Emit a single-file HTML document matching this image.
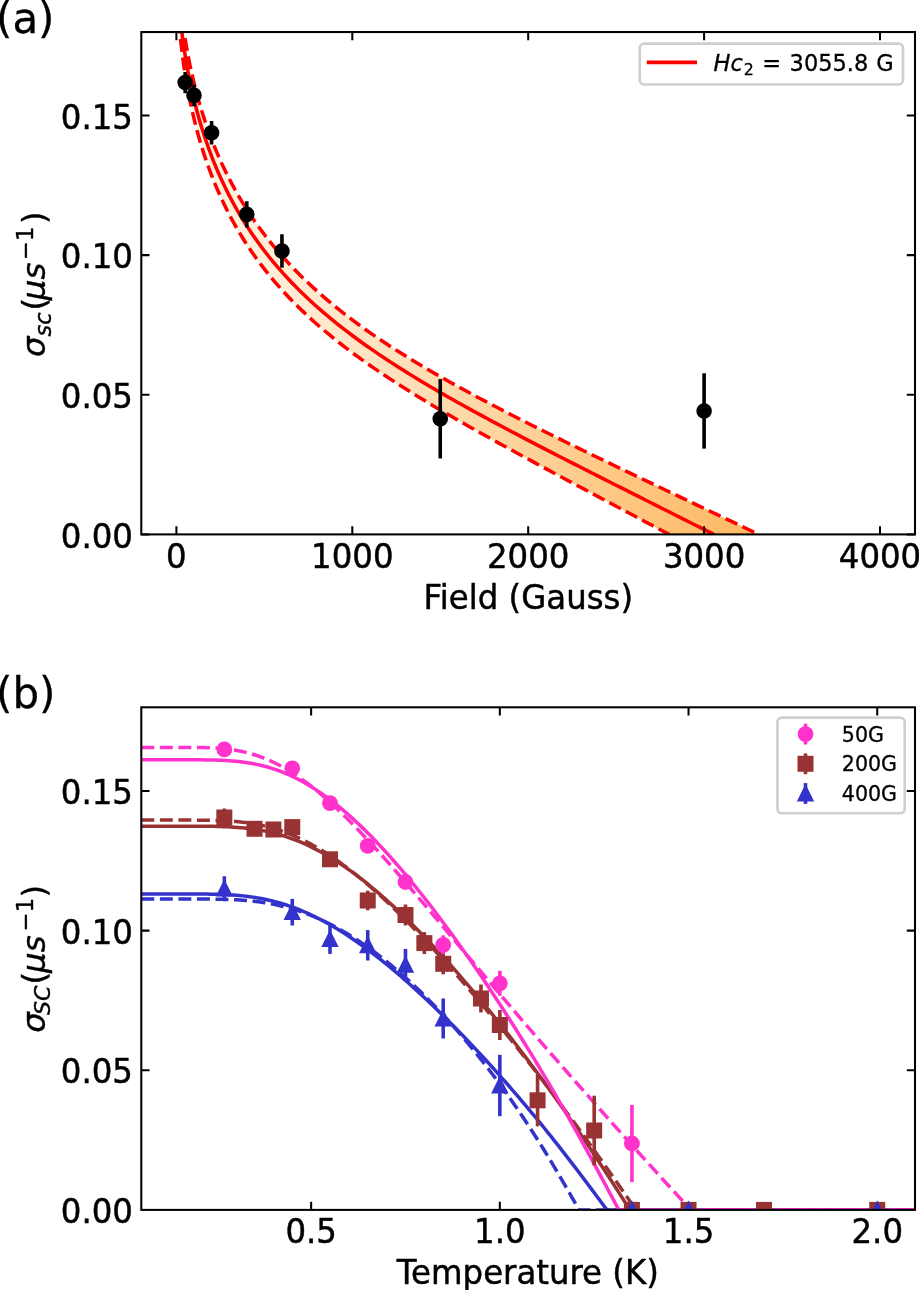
<!DOCTYPE html>
<html><head><meta charset="utf-8"><title>Figure</title>
<style>html,body{margin:0;padding:0;background:#fff}body{width:919px;height:1290px;overflow:hidden}</style></head>
<body>
<svg width="919" height="1290" viewBox="0 0 919 1290" style="display:block">
<defs>
<clipPath id="ca"><rect x="141.3" y="32.05" width="773.7" height="502.34999999999997"/></clipPath>
<clipPath id="cb"><rect x="141.3" y="707.3" width="773.7" height="502.60000000000014"/></clipPath>
<linearGradient id="gf" gradientUnits="userSpaceOnUse" x1="180" y1="0" x2="760" y2="0"><stop offset="0" stop-color="#fff4e6"/><stop offset="0.21" stop-color="#ffebd2"/><stop offset="0.55" stop-color="#fdd5a0"/><stop offset="0.9" stop-color="#fdbe6e"/><stop offset="1" stop-color="#fdb862"/></linearGradient>
</defs>
<rect width="919" height="1290" fill="#fff"/>
<g clip-path="url(#ca)">
<path d="M180 -1L180.24 1.41L180.83 7.01L181.47 12.58L182.14 18.1L182.86 23.58L183.63 29.03L184.43 34.43L185.28 39.8L186.17 45.12L187.11 50.41L188.08 55.65L189.1 60.85L190.16 66.01L191.26 71.12L192.41 76.2L193.6 81.23L194.83 86.22L196.1 91.17L197.42 96.08L198.78 100.94L200.18 105.76L201.63 110.54L203.11 115.28L204.64 119.97L206.21 124.63L207.83 129.24L209.48 133.8L211.18 138.33L212.93 142.81L214.71 147.26L216.54 151.66L218.41 156.02L220.32 160.33L222.27 164.61L224.27 168.85L226.31 173.04L228.39 177.2L230.52 181.32L232.69 185.39L234.9 189.43L237.15 193.43L239.45 197.39L241.78 201.31L244.16 205.2L246.59 209.05L249.05 212.86L251.56 216.63L254.11 220.37L256.71 224.07L259.34 227.74L262.02 231.37L264.74 234.97L267.5 238.54L270.31 242.07L273.16 245.57L276.05 249.04L278.98 252.47L281.96 255.88L284.98 259.26L288.04 262.6L291.15 265.92L294.29 269.21L297.48 272.47L300.71 275.7L303.99 278.91L307.3 282.09L310.66 285.24L314.07 288.37L317.51 291.48L321 294.56L324.53 297.62L328.1 300.66L331.71 303.68L335.37 306.67L339.07 309.65L342.81 312.6L346.6 315.54L350.43 318.46L354.3 321.36L358.21 324.25L362.16 327.12L366.16 329.97L370.2 332.81L374.29 335.63L378.41 338.45L382.58 341.25L386.79 344.04L391.04 346.81L395.34 349.58L399.68 352.34L404.06 355.09L408.48 357.83L412.95 360.56L417.46 363.29L422.01 366.01L426.6 368.73L431.24 371.44L435.92 374.14L440.64 376.85L445.4 379.55L450.21 382.25L455.06 384.94L459.95 387.64L464.88 390.34L469.86 393.04L474.88 395.74L479.94 398.44L485.05 401.14L490.19 403.85L495.38 406.56L500.62 409.28L505.89 412L511.21 414.73L516.57 417.47L521.97 420.21L527.42 422.96L532.9 425.71L538.43 428.48L544.01 431.26L549.62 434.04L555.28 436.84L560.98 439.65L566.72 442.46L572.51 445.3L578.34 448.14L584.21 451L590.12 453.87L596.08 456.75L602.08 459.65L608.12 462.56L614.2 465.49L620.33 468.43L626.49 471.39L632.71 474.37L638.96 477.36L645.26 480.37L651.59 483.4L657.98 486.44L664.4 489.51L670.87 492.59L677.38 495.69L683.93 498.81L690.52 501.94L697.16 505.1L703.84 508.28L710.56 511.47L717.32 514.69L724.13 517.92L730.98 521.18L737.87 524.45L744.81 527.75L751.79 531.06L758.8 534.4L669.1 534.4L663.18 531.25L657.3 528.13L651.45 525.02L645.64 521.93L639.86 518.86L634.13 515.81L628.42 512.77L622.76 509.76L617.12 506.76L611.53 503.78L605.97 500.82L600.44 497.88L594.95 494.96L589.5 492.05L584.08 489.16L578.7 486.29L573.36 483.43L568.05 480.59L562.77 477.77L557.53 474.96L552.33 472.17L547.17 469.39L542.03 466.63L536.94 463.88L531.88 461.14L526.86 458.42L521.87 455.71L516.91 453.02L512 450.34L507.12 447.66L502.27 445L497.46 442.36L492.69 439.72L487.95 437.09L483.25 434.47L478.58 431.86L473.95 429.26L469.36 426.66L464.8 424.08L460.28 421.5L455.79 418.92L451.34 416.35L446.92 413.79L442.54 411.23L438.19 408.68L433.89 406.13L429.61 403.58L425.38 401.03L421.17 398.48L417.01 395.94L412.88 393.4L408.78 390.85L404.73 388.31L400.7 385.76L396.72 383.21L392.76 380.66L388.85 378.1L384.97 375.54L381.13 372.98L377.32 370.41L373.54 367.83L369.81 365.25L366.11 362.66L362.44 360.06L358.81 357.45L355.22 354.83L351.66 352.2L348.14 349.56L344.65 346.91L341.2 344.25L337.79 341.58L334.41 338.89L331.06 336.19L327.76 333.47L324.48 330.74L321.25 327.99L318.05 325.22L314.88 322.44L311.75 319.64L308.66 316.82L305.6 313.98L302.58 311.12L299.59 308.24L296.64 305.34L293.73 302.41L290.85 299.47L288.01 296.5L285.2 293.51L282.43 290.49L279.69 287.45L276.99 284.38L274.33 281.29L271.7 278.17L269.11 275.02L266.55 271.85L264.03 268.65L261.55 265.42L259.1 262.16L256.68 258.86L254.3 255.54L251.96 252.19L249.66 248.81L247.38 245.39L245.15 241.95L242.95 238.47L240.79 234.95L238.66 231.41L236.57 227.82L234.51 224.21L232.49 220.56L230.5 216.87L228.56 213.15L226.64 209.39L224.77 205.6L222.92 201.77L221.12 197.9L219.35 194L217.61 190.06L215.91 186.08L214.25 182.06L212.62 178L211.03 173.91L209.48 169.77L207.96 165.6L206.47 161.39L205.02 157.14L203.61 152.85L202.23 148.52L200.89 144.15L199.59 139.74L198.32 135.29L197.08 130.8L195.88 126.27L194.72 121.7L193.6 117.09L192.5 112.44L191.45 107.76L190.43 103.03L189.45 98.26L188.5 93.45L187.59 88.61L186.71 83.72L185.87 78.8L185.06 73.83L184.29 68.83L183.56 63.79L182.86 58.71L182.2 53.6L181.57 48.44L180.98 43.25L180.43 38.03L179.91 32.76L179.43 27.47L178.98 22.13L178.57 16.76L178.19 11.36L177.85 5.92L177.55 0.45L177.48 -1Z" fill="url(#gf)"/>
<path d="M178.63 -1L178.64 -0.86L179.08 4.69L179.56 10.21L180.08 15.7L180.63 21.15L181.23 26.55L181.86 31.93L182.53 37.26L183.25 42.55L184 47.81L184.79 53.03L185.62 58.2L186.49 63.34L187.4 68.44L188.35 73.49L189.33 78.51L190.36 83.49L191.42 88.42L192.53 93.31L193.67 98.17L194.85 102.98L196.08 107.75L197.34 112.48L198.64 117.17L199.98 121.81L201.35 126.42L202.77 130.98L204.23 135.51L205.72 139.99L207.26 144.43L208.83 148.83L210.45 153.19L212.1 157.51L213.79 161.79L215.52 166.03L217.29 170.22L219.1 174.38L220.95 178.5L222.83 182.58L224.76 186.62L226.73 190.63L228.73 194.59L230.77 198.52L232.86 202.41L234.98 206.26L237.14 210.07L239.34 213.85L241.58 217.59L243.86 221.3L246.18 224.97L248.54 228.6L250.93 232.21L253.37 235.77L255.84 239.31L258.36 242.81L260.91 246.28L263.5 249.71L266.13 253.12L268.8 256.49L271.51 259.83L274.26 263.15L277.05 266.43L279.87 269.68L282.74 272.91L285.65 276.11L288.59 279.28L291.57 282.43L294.6 285.55L297.66 288.64L300.76 291.71L303.9 294.76L307.08 297.78L310.3 300.78L313.55 303.76L316.85 306.72L320.19 309.65L323.56 312.57L326.98 315.46L330.43 318.34L333.92 321.2L337.45 324.04L341.03 326.87L344.64 329.67L348.28 332.47L351.97 335.25L355.7 338.01L359.47 340.76L363.27 343.5L367.12 346.23L371 348.94L374.92 351.65L378.89 354.34L382.89 357.03L386.93 359.71L391.01 362.37L395.13 365.04L399.29 367.69L403.48 370.34L407.72 372.99L412 375.63L416.31 378.26L420.66 380.9L425.06 383.53L429.49 386.16L433.96 388.79L438.47 391.41L443.02 394.04L447.61 396.67L452.24 399.3L456.9 401.93L461.61 404.57L466.36 407.21L471.14 409.85L475.96 412.5L480.83 415.15L485.73 417.81L490.67 420.47L495.65 423.14L500.67 425.82L505.73 428.51L510.83 431.2L515.96 433.91L521.14 436.62L526.35 439.35L531.61 442.08L536.9 444.83L542.24 447.59L547.61 450.36L553.02 453.14L558.47 455.94L563.96 458.75L569.49 461.57L575.05 464.41L580.66 467.26L586.31 470.13L591.99 473.01L597.72 475.91L603.48 478.83L609.28 481.76L615.12 484.71L621 487.68L626.92 490.66L632.88 493.66L638.88 496.68L644.92 499.72L651 502.78L657.11 505.86L663.27 508.95L669.46 512.06L675.69 515.2L681.97 518.35L688.28 521.52L694.63 524.71L701.02 527.92L707.45 531.15L713.92 534.4" fill="none" stroke="#f00" stroke-width="3.5"/>
<path d="M180 -1L180.24 1.41L180.83 7.01L181.47 12.58L182.14 18.1L182.86 23.58L183.63 29.03L184.43 34.43L185.28 39.8L186.17 45.12L187.11 50.41L188.08 55.65L189.1 60.85L190.16 66.01L191.26 71.12L192.41 76.2L193.6 81.23L194.83 86.22L196.1 91.17L197.42 96.08L198.78 100.94L200.18 105.76L201.63 110.54L203.11 115.28L204.64 119.97L206.21 124.63L207.83 129.24L209.48 133.8L211.18 138.33L212.93 142.81L214.71 147.26L216.54 151.66L218.41 156.02L220.32 160.33L222.27 164.61L224.27 168.85L226.31 173.04L228.39 177.2L230.52 181.32L232.69 185.39L234.9 189.43L237.15 193.43L239.45 197.39L241.78 201.31L244.16 205.2L246.59 209.05L249.05 212.86L251.56 216.63L254.11 220.37L256.71 224.07L259.34 227.74L262.02 231.37L264.74 234.97L267.5 238.54L270.31 242.07L273.16 245.57L276.05 249.04L278.98 252.47L281.96 255.88L284.98 259.26L288.04 262.6L291.15 265.92L294.29 269.21L297.48 272.47L300.71 275.7L303.99 278.91L307.3 282.09L310.66 285.24L314.07 288.37L317.51 291.48L321 294.56L324.53 297.62L328.1 300.66L331.71 303.68L335.37 306.67L339.07 309.65L342.81 312.6L346.6 315.54L350.43 318.46L354.3 321.36L358.21 324.25L362.16 327.12L366.16 329.97L370.2 332.81L374.29 335.63L378.41 338.45L382.58 341.25L386.79 344.04L391.04 346.81L395.34 349.58L399.68 352.34L404.06 355.09L408.48 357.83L412.95 360.56L417.46 363.29L422.01 366.01L426.6 368.73L431.24 371.44L435.92 374.14L440.64 376.85L445.4 379.55L450.21 382.25L455.06 384.94L459.95 387.64L464.88 390.34L469.86 393.04L474.88 395.74L479.94 398.44L485.05 401.14L490.19 403.85L495.38 406.56L500.62 409.28L505.89 412L511.21 414.73L516.57 417.47L521.97 420.21L527.42 422.96L532.9 425.71L538.43 428.48L544.01 431.26L549.62 434.04L555.28 436.84L560.98 439.65L566.72 442.46L572.51 445.3L578.34 448.14L584.21 451L590.12 453.87L596.08 456.75L602.08 459.65L608.12 462.56L614.2 465.49L620.33 468.43L626.49 471.39L632.71 474.37L638.96 477.36L645.26 480.37L651.59 483.4L657.98 486.44L664.4 489.51L670.87 492.59L677.38 495.69L683.93 498.81L690.52 501.94L697.16 505.1L703.84 508.28L710.56 511.47L717.32 514.69L724.13 517.92L730.98 521.18L737.87 524.45L744.81 527.75L751.79 531.06L758.8 534.4" fill="none" stroke="#f00" stroke-width="3.5" stroke-dasharray="12.95 5.60" stroke-dashoffset="-2.3"/>
<path d="M177.48 -1L177.55 0.45L177.85 5.92L178.19 11.36L178.57 16.76L178.98 22.13L179.43 27.47L179.91 32.76L180.43 38.03L180.98 43.25L181.57 48.44L182.2 53.6L182.86 58.71L183.56 63.79L184.29 68.83L185.06 73.83L185.87 78.8L186.71 83.72L187.59 88.61L188.5 93.45L189.45 98.26L190.43 103.03L191.45 107.76L192.5 112.44L193.6 117.09L194.72 121.7L195.88 126.27L197.08 130.8L198.32 135.29L199.59 139.74L200.89 144.15L202.23 148.52L203.61 152.85L205.02 157.14L206.47 161.39L207.96 165.6L209.48 169.77L211.03 173.91L212.62 178L214.25 182.06L215.91 186.08L217.61 190.06L219.35 194L221.12 197.9L222.92 201.77L224.77 205.6L226.64 209.39L228.56 213.15L230.5 216.87L232.49 220.56L234.51 224.21L236.57 227.82L238.66 231.41L240.79 234.95L242.95 238.47L245.15 241.95L247.38 245.39L249.66 248.81L251.96 252.19L254.3 255.54L256.68 258.86L259.1 262.16L261.55 265.42L264.03 268.65L266.55 271.85L269.11 275.02L271.7 278.17L274.33 281.29L276.99 284.38L279.69 287.45L282.43 290.49L285.2 293.51L288.01 296.5L290.85 299.47L293.73 302.41L296.64 305.34L299.59 308.24L302.58 311.12L305.6 313.98L308.66 316.82L311.75 319.64L314.88 322.44L318.05 325.22L321.25 327.99L324.48 330.74L327.76 333.47L331.06 336.19L334.41 338.89L337.79 341.58L341.2 344.25L344.65 346.91L348.14 349.56L351.66 352.2L355.22 354.83L358.81 357.45L362.44 360.06L366.11 362.66L369.81 365.25L373.54 367.83L377.32 370.41L381.13 372.98L384.97 375.54L388.85 378.1L392.76 380.66L396.72 383.21L400.7 385.76L404.73 388.31L408.78 390.85L412.88 393.4L417.01 395.94L421.17 398.48L425.38 401.03L429.61 403.58L433.89 406.13L438.19 408.68L442.54 411.23L446.92 413.79L451.34 416.35L455.79 418.92L460.28 421.5L464.8 424.08L469.36 426.66L473.95 429.26L478.58 431.86L483.25 434.47L487.95 437.09L492.69 439.72L497.46 442.36L502.27 445L507.12 447.66L512 450.34L516.91 453.02L521.87 455.71L526.86 458.42L531.88 461.14L536.94 463.88L542.03 466.63L547.17 469.39L552.33 472.17L557.53 474.96L562.77 477.77L568.05 480.59L573.36 483.43L578.7 486.29L584.08 489.16L589.5 492.05L594.95 494.96L600.44 497.88L605.97 500.82L611.53 503.78L617.12 506.76L622.76 509.76L628.42 512.77L634.13 515.81L639.86 518.86L645.64 521.93L651.45 525.02L657.3 528.13L663.18 531.25L669.1 534.4" fill="none" stroke="#f00" stroke-width="3.5" stroke-dasharray="12.95 5.60" stroke-dashoffset="-3"/>
</g>
<path d="M176.4 534.4v-8.2M176.4 32.05v8.2M352.3 534.4v-8.2M352.3 32.05v8.2M528.2 534.4v-8.2M528.2 32.05v8.2M704.1 534.4v-8.2M704.1 32.05v8.2M880 534.4v-8.2M880 32.05v8.2M141.3 534.4h8.2M915 534.4h-8.2M141.3 394.76h8.2M915 394.76h-8.2M141.3 255.13h8.2M915 255.13h-8.2M141.3 115.5h8.2M915 115.5h-8.2" stroke="#000" stroke-width="2.05" fill="none"/>
<g clip-path="url(#ca)">
<line x1="185.19" x2="185.19" y1="71.93" y2="93.15" stroke="#000" stroke-width="3.6"/>
<circle cx="185.19" cy="82.54" r="7.8" fill="#000"/>
<line x1="193.99" x2="193.99" y1="84.5" y2="106.28" stroke="#000" stroke-width="3.6"/>
<circle cx="193.99" cy="95.39" r="7.8" fill="#000"/>
<line x1="211.58" x2="211.58" y1="121.08" y2="144.54" stroke="#000" stroke-width="3.6"/>
<circle cx="211.58" cy="132.81" r="7.8" fill="#000"/>
<line x1="246.76" x2="246.76" y1="201.23" y2="227.48" stroke="#000" stroke-width="3.6"/>
<circle cx="246.76" cy="214.36" r="7.8" fill="#000"/>
<line x1="281.94" x2="281.94" y1="234.18" y2="267.7" stroke="#000" stroke-width="3.6"/>
<circle cx="281.94" cy="250.94" r="7.8" fill="#000"/>
<line x1="440.25" x2="440.25" y1="379.13" y2="458.44" stroke="#000" stroke-width="3.6"/>
<circle cx="440.25" cy="418.78" r="7.8" fill="#000"/>
<line x1="704.1" x2="704.1" y1="373.26" y2="448.66" stroke="#000" stroke-width="3.6"/>
<circle cx="704.1" cy="410.96" r="7.8" fill="#000"/>
</g>
<rect x="141.3" y="32.05" width="773.7" height="502.34999999999997" fill="none" stroke="#000" stroke-width="2.05"/>
<g style="font-family:'DejaVu Sans','Liberation Sans',sans-serif" fill="#000">
<text transform="translate(176.4 567.7) scale(1 1.06)" font-size="32.4" text-anchor="middle" stroke="#000" stroke-width="0.45">0</text>
<text transform="translate(352.3 567.7) scale(1 1.06)" font-size="32.4" text-anchor="middle" stroke="#000" stroke-width="0.45">1000</text>
<text transform="translate(528.2 567.7) scale(1 1.06)" font-size="32.4" text-anchor="middle" stroke="#000" stroke-width="0.45">2000</text>
<text transform="translate(704.1 567.7) scale(1 1.06)" font-size="32.4" text-anchor="middle" stroke="#000" stroke-width="0.45">3000</text>
<text transform="translate(880 567.7) scale(1 1.06)" font-size="32.4" text-anchor="middle" stroke="#000" stroke-width="0.45">4000</text>
<text transform="translate(132.9 547.5) scale(1 1.06)" font-size="32.4" text-anchor="end" stroke="#000" stroke-width="0.45">0.00</text>
<text transform="translate(132.9 407.87) scale(1 1.06)" font-size="32.4" text-anchor="end" stroke="#000" stroke-width="0.45">0.05</text>
<text transform="translate(132.9 268.23) scale(1 1.06)" font-size="32.4" text-anchor="end" stroke="#000" stroke-width="0.45">0.10</text>
<text transform="translate(132.9 128.59) scale(1 1.06)" font-size="32.4" text-anchor="end" stroke="#000" stroke-width="0.45">0.15</text>
<text transform="translate(528.3 608.5) scale(1 1.06)" font-size="32.4" text-anchor="middle" stroke="#000" stroke-width="0.45">Field (Gauss)</text>
</g>
<g clip-path="url(#cb)">
<path d="M141.3 826.18L144.74 826.18L148.19 826.18L151.63 826.18L155.07 826.18L158.52 826.18L161.96 826.18L165.4 826.18L168.84 826.18L172.29 826.18L175.73 826.18L179.17 826.18L182.62 826.18L186.06 826.19L189.5 826.19L192.95 826.19L196.39 826.2L199.83 826.22L203.27 826.23L206.72 826.26L210.16 826.3L213.6 826.35L217.05 826.42L220.49 826.51L223.93 826.63L227.38 826.77L230.82 826.94L234.26 827.14L237.7 827.39L241.15 827.67L244.59 828.01L248.03 828.39L251.48 828.82L254.92 829.31L258.36 829.86L261.81 830.47L265.25 831.14L268.69 831.88L272.14 832.69L275.58 833.56L279.02 834.51L282.46 835.53L285.91 836.62L289.35 837.79L292.79 839.03L296.24 840.35L299.68 841.74L303.12 843.21L306.57 844.75L310.01 846.37L313.45 848.07L316.89 849.83L320.34 851.68L323.78 853.59L327.22 855.58L330.67 857.64L334.11 859.76L337.55 861.96L341 864.23L344.44 866.56L347.88 868.96L351.32 871.43L354.77 873.95L358.21 876.54L361.65 879.19L365.1 881.9L368.54 884.67L371.98 887.5L375.43 890.38L378.87 893.32L382.31 896.31L385.76 899.35L389.2 902.45L392.64 905.59L396.08 908.79L399.53 912.03L402.97 915.32L406.41 918.65L409.86 922.03L413.3 925.46L416.74 928.92L420.19 932.43L423.63 935.98L427.07 939.57L430.51 943.2L433.96 946.87L437.4 950.58L440.84 954.33L444.29 958.11L447.73 961.93L451.17 965.78L454.62 969.67L458.06 973.59L461.5 977.55L464.94 981.54L468.39 985.57L471.83 989.63L475.27 993.72L478.72 997.84L482.16 1002L485.6 1006.19L489.05 1010.41L492.49 1014.66L495.93 1018.94L499.37 1023.26L502.82 1027.6L506.26 1031.98L509.7 1036.39L513.15 1040.83L516.59 1045.3L520.03 1049.8L523.48 1054.33L526.92 1058.9L530.36 1063.5L533.81 1068.12L537.25 1072.78L540.69 1077.47L544.13 1082.2L547.58 1086.95L551.02 1091.74L554.46 1096.56L557.91 1101.41L561.35 1106.29L564.79 1111.21L568.24 1116.16L571.68 1121.14L575.12 1126.16L578.56 1131.21L582.01 1136.29L585.45 1141.4L588.89 1146.55L592.34 1151.73L595.78 1156.94L599.22 1162.18L602.67 1167.45L606.11 1172.74L609.55 1178.07L612.99 1183.42L616.44 1188.79L619.88 1194.17L620.8 1195.61L621.73 1197.06L622.65 1198.5L623.57 1199.94L624.5 1201.38L625.42 1202.82L626.34 1204.26L627.26 1205.69L628.19 1207.11L629.11 1208.52L630.03 1209.9L925 1209.9" fill="none" stroke="#993333" stroke-width="3.5"/>
<path d="M141.3 820.09L144.79 820.09L148.27 820.09L151.76 820.09L155.24 820.09L158.73 820.09L162.21 820.09L165.7 820.09L169.18 820.09L172.67 820.1L176.16 820.1L179.64 820.1L183.13 820.1L186.61 820.1L190.1 820.1L193.58 820.11L197.07 820.13L200.56 820.15L204.04 820.18L207.53 820.22L211.01 820.28L214.5 820.35L217.98 820.45L221.47 820.58L224.95 820.74L228.44 820.93L231.93 821.17L235.41 821.45L238.9 821.77L242.38 822.15L245.87 822.59L249.35 823.08L252.84 823.64L256.32 824.27L259.81 824.96L263.3 825.73L266.78 826.57L270.27 827.49L273.75 828.48L277.24 829.56L280.72 830.71L284.21 831.95L287.7 833.26L291.18 834.66L294.67 836.14L298.15 837.7L301.64 839.35L305.12 841.07L308.61 842.88L312.09 844.76L315.58 846.72L319.07 848.76L322.55 850.87L326.04 853.06L329.52 855.33L333.01 857.66L336.49 860.07L339.98 862.54L343.46 865.09L346.95 867.69L350.44 870.37L353.92 873.1L357.41 875.9L360.89 878.75L364.38 881.67L367.86 884.64L371.35 887.66L374.84 890.74L378.32 893.87L381.81 897.05L385.29 900.28L388.78 903.55L392.26 906.87L395.75 910.24L399.23 913.65L402.72 917.09L406.21 920.59L409.69 924.11L413.18 927.68L416.66 931.29L420.15 934.93L423.63 938.6L427.12 942.31L430.6 946.06L434.09 949.83L437.58 953.64L441.06 957.47L444.55 961.34L448.03 965.24L451.52 969.16L455 973.11L458.49 977.09L461.98 981.1L465.46 985.13L468.95 989.18L472.43 993.27L475.92 997.37L479.4 1001.5L482.89 1005.66L486.37 1009.84L489.86 1014.04L493.35 1018.27L496.83 1022.51L500.32 1026.79L503.8 1031.08L507.29 1035.39L510.77 1039.73L514.26 1044.09L517.74 1048.48L521.23 1052.88L524.72 1057.31L528.2 1061.76L531.69 1066.23L535.17 1070.72L538.66 1075.24L542.14 1079.78L545.63 1084.34L549.12 1088.92L552.6 1093.53L556.09 1098.15L559.57 1102.8L563.06 1107.48L566.54 1112.17L570.03 1116.89L573.51 1121.63L577 1126.4L580.49 1131.18L583.97 1135.99L587.46 1140.82L590.94 1145.68L594.43 1150.56L597.91 1155.45L601.4 1160.37L604.88 1165.31L608.37 1170.27L611.86 1175.25L615.34 1180.24L618.83 1185.25L622.31 1190.26L625.8 1195.28L626.73 1196.63L627.67 1197.97L628.6 1199.31L629.53 1200.66L630.47 1202L631.4 1203.33L632.34 1204.67L633.27 1205.99L634.2 1207.32L635.14 1208.63L636.07 1209.9L925 1209.9" fill="none" stroke="#993333" stroke-width="3.5" stroke-dasharray="12.95 5.60"/>
<path d="M141.3 893.99L144.58 893.99L147.86 893.99L151.14 893.99L154.42 893.99L157.7 893.99L160.98 893.99L164.27 893.99L167.55 893.99L170.83 893.99L174.11 893.99L177.39 893.99L180.67 893.99L183.95 893.99L187.23 894L190.51 894L193.79 894.01L197.07 894.02L200.35 894.04L203.63 894.06L206.91 894.1L210.2 894.14L213.48 894.2L216.76 894.28L220.04 894.38L223.32 894.5L226.6 894.64L229.88 894.82L233.16 895.03L236.44 895.27L239.72 895.55L243 895.87L246.28 896.24L249.56 896.65L252.84 897.11L256.13 897.62L259.41 898.18L262.69 898.8L265.97 899.48L269.25 900.21L272.53 901L275.81 901.84L279.09 902.75L282.37 903.72L285.65 904.76L288.93 905.85L292.21 907L295.49 908.22L298.77 909.5L302.06 910.84L305.34 912.24L308.62 913.71L311.9 915.23L315.18 916.81L318.46 918.46L321.74 920.16L325.02 921.91L328.3 923.73L331.58 925.6L334.86 927.53L338.14 929.51L341.42 931.54L344.7 933.62L347.99 935.76L351.27 937.94L354.55 940.18L357.83 942.46L361.11 944.79L364.39 947.16L367.67 949.58L370.95 952.05L374.23 954.55L377.51 957.1L380.79 959.69L384.07 962.32L387.35 964.99L390.63 967.7L393.92 970.44L397.2 973.22L400.48 976.04L403.76 978.89L407.04 981.78L410.32 984.7L413.6 987.65L416.88 990.64L420.16 993.66L423.44 996.71L426.72 999.79L430 1002.9L433.28 1006.04L436.56 1009.21L439.85 1012.41L443.13 1015.64L446.41 1018.89L449.69 1022.17L452.97 1025.48L456.25 1028.82L459.53 1032.19L462.81 1035.58L466.09 1038.99L469.37 1042.44L472.65 1045.91L475.93 1049.4L479.21 1052.93L482.49 1056.47L485.78 1060.05L489.06 1063.64L492.34 1067.27L495.62 1070.92L498.9 1074.59L502.18 1078.29L505.46 1082.02L508.74 1085.77L512.02 1089.55L515.3 1093.36L518.58 1097.19L521.86 1101.04L525.14 1104.92L528.42 1108.83L531.71 1112.77L534.99 1116.73L538.27 1120.72L541.55 1124.73L544.83 1128.77L548.11 1132.84L551.39 1136.93L554.67 1141.06L557.95 1145.21L561.23 1149.38L564.51 1153.58L567.79 1157.81L571.07 1162.07L574.35 1166.35L577.64 1170.66L580.92 1174.99L584.2 1179.34L587.48 1183.72L590.76 1188.11L594.04 1192.53L597.32 1196.95L598.2 1198.14L599.08 1199.33L599.96 1200.51L600.84 1201.7L601.73 1202.89L602.61 1204.07L603.49 1205.26L604.37 1206.43L605.25 1207.61L606.13 1208.77L607.01 1209.9L925 1209.9" fill="none" stroke="#3333cc" stroke-width="3.5"/>
<path d="M141.3 898.99L144.38 898.99L147.47 898.99L150.55 898.99L153.64 898.99L156.72 898.99L159.8 898.99L162.89 898.99L165.97 898.99L169.05 898.99L172.14 898.99L175.22 898.99L178.31 898.99L181.39 898.99L184.47 898.99L187.56 898.99L190.64 898.99L193.72 899L196.81 899L199.89 899.01L202.98 899.02L206.06 899.04L209.14 899.06L212.23 899.1L215.31 899.14L218.4 899.19L221.48 899.25L224.56 899.33L227.65 899.43L230.73 899.54L233.81 899.68L236.9 899.84L239.98 900.03L243.07 900.24L246.15 900.49L249.23 900.77L252.32 901.08L255.4 901.42L258.49 901.81L261.57 902.23L264.65 902.7L267.74 903.21L270.82 903.76L273.9 904.36L276.99 905L280.07 905.7L283.16 906.44L286.24 907.23L289.32 908.07L292.41 908.96L295.49 909.91L298.57 910.91L301.66 911.96L304.74 913.06L307.83 914.21L310.91 915.42L313.99 916.68L317.08 918L320.16 919.37L323.25 920.79L326.33 922.27L329.41 923.8L332.5 925.38L335.58 927.02L338.66 928.71L341.75 930.45L344.83 932.25L347.92 934.09L351 935.99L354.08 937.94L357.17 939.94L360.25 941.99L363.34 944.09L366.42 946.24L369.5 948.44L372.59 950.69L375.67 952.98L378.75 955.33L381.84 957.73L384.92 960.17L388.01 962.66L391.09 965.2L394.17 967.78L397.26 970.41L400.34 973.09L403.42 975.82L406.51 978.59L409.59 981.41L412.68 984.27L415.76 987.18L418.84 990.13L421.93 993.13L425.01 996.17L428.1 999.26L431.18 1002.4L434.26 1005.58L437.35 1008.81L440.43 1012.08L443.51 1015.39L446.6 1018.76L449.68 1022.16L452.77 1025.62L455.85 1029.12L458.93 1032.66L462.02 1036.25L465.1 1039.89L468.18 1043.58L471.27 1047.31L474.35 1051.09L477.44 1054.92L480.52 1058.79L483.6 1062.71L486.69 1066.69L489.77 1070.71L492.86 1074.78L495.94 1078.9L499.02 1083.07L502.11 1087.29L505.19 1091.57L508.27 1095.89L511.36 1100.27L514.44 1104.71L517.53 1109.19L520.61 1113.73L523.69 1118.32L526.78 1122.97L529.86 1127.68L532.95 1132.44L536.03 1137.25L539.11 1142.12L542.2 1147.05L545.28 1152.04L548.36 1157.08L551.45 1162.18L554.53 1167.33L557.62 1172.54L560.7 1177.8L563.78 1183.12L566.87 1188.48L569.95 1193.88L570.78 1195.34L571.61 1196.8L572.44 1198.27L573.27 1199.73L574.1 1201.2L574.93 1202.66L575.76 1204.13L576.59 1205.59L577.42 1207.04L578.25 1208.49L579.08 1209.9L925 1209.9" fill="none" stroke="#3333cc" stroke-width="3.5" stroke-dasharray="12.95 5.60"/>
<path d="M141.3 759.8L144.66 759.8L148.03 759.8L151.39 759.8L154.76 759.8L158.12 759.8L161.49 759.8L164.85 759.8L168.22 759.8L171.58 759.8L174.95 759.8L178.31 759.8L181.67 759.8L185.04 759.8L188.4 759.81L191.77 759.81L195.13 759.82L198.5 759.84L201.86 759.86L205.23 759.9L208.59 759.94L211.96 760.01L215.32 760.09L218.68 760.2L222.05 760.34L225.41 760.5L228.78 760.71L232.14 760.95L235.51 761.24L238.87 761.59L242.24 761.98L245.6 762.43L248.97 762.95L252.33 763.53L255.69 764.18L259.06 764.9L262.42 765.69L265.79 766.56L269.15 767.52L272.52 768.55L275.88 769.67L279.25 770.87L282.61 772.16L285.97 773.53L289.34 775L292.7 776.55L296.07 778.19L299.43 779.92L302.8 781.73L306.16 783.64L309.53 785.63L312.89 787.71L316.26 789.87L319.62 792.12L322.98 794.46L326.35 796.88L329.71 799.38L333.08 801.96L336.44 804.62L339.81 807.36L343.17 810.18L346.54 813.07L349.9 816.04L353.27 819.08L356.63 822.19L359.99 825.37L363.36 828.62L366.72 831.94L370.09 835.32L373.45 838.77L376.82 842.28L380.18 845.85L383.55 849.48L386.91 853.17L390.28 856.91L393.64 860.72L397 864.57L400.37 868.48L403.73 872.45L407.1 876.46L410.46 880.53L413.83 884.64L417.19 888.81L420.56 893.02L423.92 897.27L427.29 901.58L430.65 905.92L434.01 910.31L437.38 914.75L440.74 919.23L444.11 923.74L447.47 928.3L450.84 932.9L454.2 937.54L457.57 942.22L460.93 946.94L464.3 951.7L467.66 956.5L471.02 961.33L474.39 966.21L477.75 971.12L481.12 976.06L484.48 981.05L487.85 986.07L491.21 991.13L494.58 996.22L497.94 1001.35L501.31 1006.52L504.67 1011.72L508.03 1016.96L511.4 1022.24L514.76 1027.55L518.13 1032.9L521.49 1038.29L524.86 1043.72L528.22 1049.18L531.59 1054.68L534.95 1060.21L538.32 1065.78L541.68 1071.4L545.04 1077.04L548.41 1082.73L551.77 1088.46L555.14 1094.22L558.5 1100.02L561.87 1105.86L565.23 1111.74L568.6 1117.66L571.96 1123.61L575.32 1129.6L578.69 1135.64L582.05 1141.7L585.42 1147.81L588.78 1153.95L592.15 1160.13L595.51 1166.34L598.88 1172.58L602.24 1178.85L605.61 1185.14L608.97 1191.45L609.87 1193.14L610.78 1194.83L611.68 1196.53L612.58 1198.22L613.48 1199.91L614.39 1201.6L615.29 1203.28L616.19 1204.96L617.09 1206.63L618 1208.29L618.9 1209.9L925 1209.9" fill="none" stroke="#ff33cc" stroke-width="3.5"/>
<path d="M141.3 747.4L145.17 747.4L149.05 747.4L152.92 747.4L156.8 747.4L160.67 747.4L164.54 747.4L168.42 747.4L172.29 747.4L176.17 747.4L180.04 747.41L183.91 747.41L187.79 747.42L191.66 747.44L195.54 747.48L199.41 747.53L203.29 747.6L207.16 747.71L211.03 747.86L214.91 748.05L218.78 748.31L222.66 748.63L226.53 749.02L230.4 749.5L234.28 750.07L238.15 750.73L242.03 751.51L245.9 752.39L249.77 753.39L253.65 754.51L257.52 755.76L261.4 757.13L265.27 758.64L269.14 760.28L273.02 762.04L276.89 763.94L280.77 765.97L284.64 768.13L288.51 770.42L292.39 772.84L296.26 775.38L300.14 778.04L304.01 780.81L307.89 783.7L311.76 786.71L315.63 789.81L319.51 793.02L323.38 796.33L327.26 799.74L331.13 803.23L335 806.81L338.88 810.47L342.75 814.21L346.63 818.02L350.5 821.9L354.37 825.85L358.25 829.86L362.12 833.92L366 838.05L369.87 842.22L373.74 846.43L377.62 850.7L381.49 855L385.37 859.34L389.24 863.71L393.12 868.12L396.99 872.55L400.86 877.01L404.74 881.49L408.61 886L412.49 890.52L416.36 895.06L420.23 899.61L424.11 904.18L427.98 908.76L431.86 913.35L435.73 917.94L439.6 922.55L443.48 927.15L447.35 931.76L451.23 936.38L455.1 940.99L458.97 945.6L462.85 950.22L466.72 954.83L470.6 959.44L474.47 964.04L478.34 968.64L482.22 973.24L486.09 977.83L489.97 982.42L493.84 987L497.72 991.57L501.59 996.14L505.46 1000.69L509.34 1005.25L513.21 1009.79L517.09 1014.32L520.96 1018.85L524.83 1023.37L528.71 1027.88L532.58 1032.38L536.46 1036.87L540.33 1041.36L544.2 1045.83L548.08 1050.3L551.95 1054.76L555.83 1059.21L559.7 1063.65L563.57 1068.09L567.45 1072.51L571.32 1076.93L575.2 1081.34L579.07 1085.75L582.94 1090.14L586.82 1094.53L590.69 1098.91L594.57 1103.29L598.44 1107.65L602.32 1112.02L606.19 1116.37L610.06 1120.72L613.94 1125.06L617.81 1129.4L621.69 1133.73L625.56 1138.06L629.43 1142.38L633.31 1146.69L637.18 1151L641.06 1155.3L644.93 1159.59L648.8 1163.88L652.68 1168.16L656.55 1172.44L660.43 1176.71L664.3 1180.96L668.17 1185.21L672.05 1189.44L675.92 1193.66L679.8 1197.86L680.83 1198.97L681.87 1200.09L682.9 1201.2L683.93 1202.31L684.97 1203.41L686 1204.51L687.04 1205.61L688.07 1206.7L689.1 1207.79L690.14 1208.86L691.17 1209.9L925 1209.9" fill="none" stroke="#ff33cc" stroke-width="3.5" stroke-dasharray="12.95 5.60"/>
</g>
<path d="M311.13 1209.9v-8.2M311.13 707.3v8.2M499.83 1209.9v-8.2M499.83 707.3v8.2M688.53 1209.9v-8.2M688.53 707.3v8.2M877.23 1209.9v-8.2M877.23 707.3v8.2M141.3 1070.27h8.2M915 1070.27h-8.2M141.3 930.63h8.2M915 930.63h-8.2M141.3 791h8.2M915 791h-8.2" stroke="#000" stroke-width="2.05" fill="none"/>
<g clip-path="url(#cb)">
<line x1="224.33" x2="224.33" y1="808.5" y2="826.5" stroke="#993333" stroke-width="3.6"/>
<line x1="367.74" x2="367.74" y1="890.7" y2="910.3" stroke="#993333" stroke-width="3.6"/>
<line x1="405.48" x2="405.48" y1="904.5" y2="925.5" stroke="#993333" stroke-width="3.6"/>
<line x1="424.35" x2="424.35" y1="932.1" y2="954.1" stroke="#993333" stroke-width="3.6"/>
<line x1="443.22" x2="443.22" y1="953.3" y2="974.3" stroke="#993333" stroke-width="3.6"/>
<line x1="480.96" x2="480.96" y1="984.5" y2="1012.5" stroke="#993333" stroke-width="3.6"/>
<line x1="499.83" x2="499.83" y1="1010" y2="1040" stroke="#993333" stroke-width="3.6"/>
<line x1="537.57" x2="537.57" y1="1074.3" y2="1126.3" stroke="#993333" stroke-width="3.6"/>
<line x1="594.18" x2="594.18" y1="1095.7" y2="1165.3" stroke="#993333" stroke-width="3.6"/>
<rect x="216.33" y="809.5" width="16" height="16" fill="#993333"/>
<rect x="246.52" y="820.8" width="16" height="16" fill="#993333"/>
<rect x="265.39" y="821.5" width="16" height="16" fill="#993333"/>
<rect x="284.26" y="819.1" width="16" height="16" fill="#993333"/>
<rect x="322" y="851.3" width="16" height="16" fill="#993333"/>
<rect x="359.74" y="892.5" width="16" height="16" fill="#993333"/>
<rect x="397.48" y="907" width="16" height="16" fill="#993333"/>
<rect x="416.35" y="935.1" width="16" height="16" fill="#993333"/>
<rect x="435.22" y="955.8" width="16" height="16" fill="#993333"/>
<rect x="472.96" y="990.5" width="16" height="16" fill="#993333"/>
<rect x="491.83" y="1017" width="16" height="16" fill="#993333"/>
<rect x="529.57" y="1092.3" width="16" height="16" fill="#993333"/>
<rect x="586.18" y="1122.5" width="16" height="16" fill="#993333"/>
<rect x="623.92" y="1201.9" width="16" height="16" fill="#993333"/>
<rect x="680.53" y="1201.9" width="16" height="16" fill="#993333"/>
<rect x="756.01" y="1201.9" width="16" height="16" fill="#993333"/>
<rect x="869.23" y="1201.9" width="16" height="16" fill="#993333"/>
<line x1="443.22" x2="443.22" y1="935.3" y2="954.3" stroke="#ff33cc" stroke-width="3.6"/>
<line x1="499.83" x2="499.83" y1="970.8" y2="995.8" stroke="#ff33cc" stroke-width="3.6"/>
<line x1="631.92" x2="631.92" y1="1104.9" y2="1182.1" stroke="#ff33cc" stroke-width="3.6"/>
<circle cx="224.33" cy="749.4" r="7.9" fill="#ff33cc"/>
<circle cx="292.26" cy="768.3" r="7.9" fill="#ff33cc"/>
<circle cx="330" cy="803.2" r="7.9" fill="#ff33cc"/>
<circle cx="367.74" cy="845.9" r="7.9" fill="#ff33cc"/>
<circle cx="405.48" cy="882" r="7.9" fill="#ff33cc"/>
<circle cx="443.22" cy="944.8" r="7.9" fill="#ff33cc"/>
<circle cx="499.83" cy="983.3" r="7.9" fill="#ff33cc"/>
<circle cx="631.92" cy="1143.5" r="7.9" fill="#ff33cc"/>
<line x1="224.33" x2="224.33" y1="876.2" y2="901.2" stroke="#3333cc" stroke-width="3.6"/>
<line x1="292.26" x2="292.26" y1="898.9" y2="925.5" stroke="#3333cc" stroke-width="3.6"/>
<line x1="330" x2="330" y1="924.5" y2="953.9" stroke="#3333cc" stroke-width="3.6"/>
<line x1="367.74" x2="367.74" y1="930.1" y2="960.5" stroke="#3333cc" stroke-width="3.6"/>
<line x1="405.48" x2="405.48" y1="948.9" y2="980.9" stroke="#3333cc" stroke-width="3.6"/>
<line x1="443.22" x2="443.22" y1="998.5" y2="1038.5" stroke="#3333cc" stroke-width="3.6"/>
<line x1="499.83" x2="499.83" y1="1054.8" y2="1116.2" stroke="#3333cc" stroke-width="3.6"/>
<path d="M224.33 882.1L217.73 895.3L230.93 895.3Z" fill="#3333cc" stroke="#3333cc" stroke-width="2.6" stroke-miterlimit="10"/>
<path d="M292.26 905.6L285.66 918.8L298.86 918.8Z" fill="#3333cc" stroke="#3333cc" stroke-width="2.6" stroke-miterlimit="10"/>
<path d="M330 932.6L323.4 945.8L336.6 945.8Z" fill="#3333cc" stroke="#3333cc" stroke-width="2.6" stroke-miterlimit="10"/>
<path d="M367.74 938.7L361.14 951.9L374.34 951.9Z" fill="#3333cc" stroke="#3333cc" stroke-width="2.6" stroke-miterlimit="10"/>
<path d="M405.48 958.3L398.88 971.5L412.08 971.5Z" fill="#3333cc" stroke="#3333cc" stroke-width="2.6" stroke-miterlimit="10"/>
<path d="M443.22 1011.9L436.62 1025.1L449.82 1025.1Z" fill="#3333cc" stroke="#3333cc" stroke-width="2.6" stroke-miterlimit="10"/>
<path d="M499.83 1078.9L493.23 1092.1L506.43 1092.1Z" fill="#3333cc" stroke="#3333cc" stroke-width="2.6" stroke-miterlimit="10"/>
<path d="M631.92 1203.3L625.32 1216.5L638.52 1216.5Z" fill="#3333cc" stroke="#3333cc" stroke-width="2.6" stroke-miterlimit="10"/>
<path d="M688.53 1203.3L681.93 1216.5L695.13 1216.5Z" fill="#3333cc" stroke="#3333cc" stroke-width="2.6" stroke-miterlimit="10"/>
<path d="M877.23 1203.3L870.63 1216.5L883.83 1216.5Z" fill="#3333cc" stroke="#3333cc" stroke-width="2.6" stroke-miterlimit="10"/>
</g>
<rect x="141.3" y="707.3" width="773.7" height="502.60000000000014" fill="none" stroke="#000" stroke-width="2.05"/>
<g style="font-family:'DejaVu Sans','Liberation Sans',sans-serif" fill="#000">
<text transform="translate(311.13 1243.2) scale(1 1.06)" font-size="32.4" text-anchor="middle" stroke="#000" stroke-width="0.45">0.5</text>
<text transform="translate(499.83 1243.2) scale(1 1.06)" font-size="32.4" text-anchor="middle" stroke="#000" stroke-width="0.45">1.0</text>
<text transform="translate(688.53 1243.2) scale(1 1.06)" font-size="32.4" text-anchor="middle" stroke="#000" stroke-width="0.45">1.5</text>
<text transform="translate(877.23 1243.2) scale(1 1.06)" font-size="32.4" text-anchor="middle" stroke="#000" stroke-width="0.45">2.0</text>
<text transform="translate(132.9 1223) scale(1 1.06)" font-size="32.4" text-anchor="end" stroke="#000" stroke-width="0.45">0.00</text>
<text transform="translate(132.9 1083.37) scale(1 1.06)" font-size="32.4" text-anchor="end" stroke="#000" stroke-width="0.45">0.05</text>
<text transform="translate(132.9 943.73) scale(1 1.06)" font-size="32.4" text-anchor="end" stroke="#000" stroke-width="0.45">0.10</text>
<text transform="translate(132.9 804.1) scale(1 1.06)" font-size="32.4" text-anchor="end" stroke="#000" stroke-width="0.45">0.15</text>
<text transform="translate(527.8 1283.6) scale(1 1.06)" font-size="32.4" text-anchor="middle" stroke="#000" stroke-width="0.45">Temperature (K)</text>
</g>
<g style="font-family:'DejaVu Sans','Liberation Sans',sans-serif" fill="#000">
<text transform="translate(-4 32.7) scale(1 1)" font-size="42" stroke="#000" stroke-width="0.3">(a)</text>
<text transform="translate(-4 707.6) scale(1 1)" font-size="42" stroke="#000" stroke-width="0.3">(b)</text>
</g>
<g transform="translate(45.3 355.4) rotate(-90)" style="font-family:'DejaVu Sans','Liberation Sans',sans-serif" fill="#000">
<text transform="translate(-1.5 0) scale(1 1)" font-size="32.4" font-style="oblique" stroke="#000" stroke-width="0.4">σ</text>
<text transform="translate(18.8 5.6) scale(1 1)" font-size="22.6" font-style="oblique" stroke="#000" stroke-width="0.4">sc</text>
<text transform="translate(44.9 0) scale(1 1)" font-size="32.4" stroke="#000" stroke-width="0.4">(</text>
<text transform="translate(55.2 0) scale(1 1)" font-size="32.4" font-style="oblique" stroke="#000" stroke-width="0.4">μs</text>
<text transform="translate(95.4 -12.6) scale(1 1)" font-size="22.6" stroke="#000" stroke-width="0.4">−1</text>
<text transform="translate(131.3 0) scale(1 1)" font-size="32.4" stroke="#000" stroke-width="0.4">)</text>
</g>
<g transform="translate(45.3 1032.7) rotate(-90)" style="font-family:'DejaVu Sans','Liberation Sans',sans-serif" fill="#000">
<text transform="translate(0 0) scale(1 1)" font-size="32.4" font-style="oblique" stroke="#000" stroke-width="0.4">σ</text>
<text transform="translate(17.8 5) scale(1 1)" font-size="22" font-style="oblique" stroke="#000" stroke-width="0.4">SC</text>
<text transform="translate(48.2 0) scale(1 1)" font-size="32.4" stroke="#000" stroke-width="0.4">(</text>
<text transform="translate(59.8 0) scale(1 1)" font-size="32.4" font-style="oblique" stroke="#000" stroke-width="0.4">μs</text>
<text transform="translate(101.5 -12.6) scale(1 1)" font-size="22.6" stroke="#000" stroke-width="0.4">−1</text>
<text transform="translate(135.1 0) scale(1 1)" font-size="32.4" stroke="#000" stroke-width="0.4">)</text>
</g>
<rect x="639.7" y="43.6" width="263.3" height="40.9" rx="4.5" fill="#fff" stroke="#cfcfcf" stroke-width="2.6"/>
<line x1="646.8" x2="697" y1="62.3" y2="62.3" stroke="#f00" stroke-width="3.8"/>
<g style="font-family:'DejaVu Sans','Liberation Sans',sans-serif" fill="#000">
<text transform="translate(713.5 71) scale(1 1.03)" font-size="22.5" font-style="oblique" stroke="#000" stroke-width="0.3">Hc</text>
<text transform="translate(743.7 75) scale(1 1.03)" font-size="15.75" stroke="#000" stroke-width="0.3">2</text>
<text transform="translate(762.2 71) scale(1 1.03)" font-size="22.5" stroke="#000" stroke-width="0.3">=</text>
<text transform="translate(789.6 71) scale(1 1.03)" font-size="22.5" stroke="#000" stroke-width="0.3">3055.8</text>
<text transform="translate(876.2 71) scale(1 1.03)" font-size="22.5" stroke="#000" stroke-width="0.3">G</text>
</g>
<rect x="777.4" y="717.6" width="127.3" height="95.7" rx="4.5" fill="#fff" stroke="#cfcfcf" stroke-width="2.6"/>
<g style="font-family:'DejaVu Sans','Liberation Sans',sans-serif" fill="#000">
<line x1="805.5" x2="805.5" y1="723.7" y2="744.5" stroke="#ff33cc" stroke-width="3.6"/>
<circle cx="805.5" cy="734.1" r="7.9" fill="#ff33cc"/>
<text transform="translate(841.8 741.5) scale(1 1)" font-size="20.6" stroke="#000" stroke-width="0.3">50G</text>
<line x1="805.5" x2="805.5" y1="753.4" y2="774.2" stroke="#993333" stroke-width="3.6"/>
<rect x="797.5" y="755.8" width="16" height="16" fill="#993333"/>
<text transform="translate(841.8 771.2) scale(1 1)" font-size="20.6" stroke="#000" stroke-width="0.3">200G</text>
<line x1="805.5" x2="805.5" y1="783.1" y2="803.9" stroke="#3333cc" stroke-width="3.6"/>
<path d="M805.5 786.9L798.9 800.1L812.1 800.1Z" fill="#3333cc" stroke="#3333cc" stroke-width="2.6" stroke-miterlimit="10"/>
<text transform="translate(841.8 800.9) scale(1 1)" font-size="20.6" stroke="#000" stroke-width="0.3">400G</text>
</g>
</svg>
</body></html>
